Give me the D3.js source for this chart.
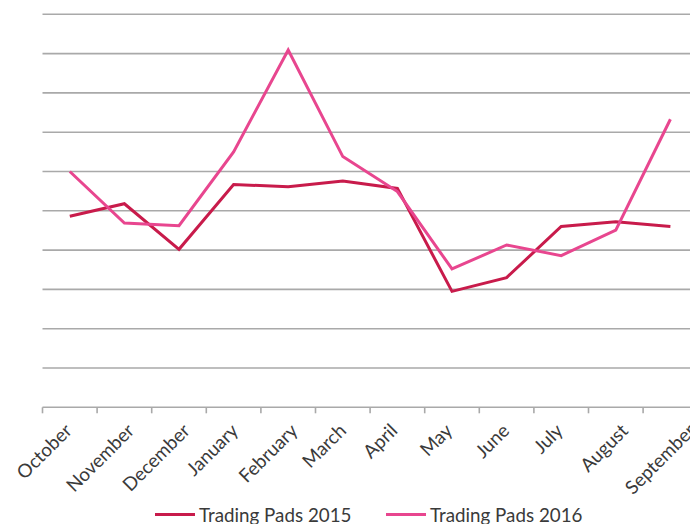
<!DOCTYPE html>
<html>
<head>
<meta charset="utf-8">
<script src="https://cdn.jsdelivr.net/npm/d3@7/dist/d3.min.js"></script>
<style>
  html, body { margin: 0; padding: 0; background: #fff; overflow: hidden; }
  svg { display: block; }
</style>
</head>
<body>
<div id="chart"></div>
<script>
// Monthly figures for the two trading-pad series
const months = ["October", "November", "December", "January", "February", "March",
                "April", "May", "June", "July", "August", "September"];
const pads2015 = [48.6, 51.8, 40.2, 56.7, 56.1, 57.6, 55.7, 29.5, 33.0, 46.0, 47.2, 46.0];
const pads2016 = [60.0, 46.9, 46.2, 65.0, 90.9, 63.8, 54.9, 35.2, 41.3, 38.6, 45.1, 73.3];
const gridValues = [10, 20, 30, 40, 50, 60, 70, 80, 90, 100];
const seriesNames = ["Trading Pads 2015", "Trading Pads 2016"];
const seriesColors = ["#c81b4b", "#e8468f"];

const width = 720, height = 524;
const margin = { top: 14.3, left: 42.5, bottom: 524 - 407.3 };
const plotW = 12 * 54.6;
const font = "Lato, 'Open Sans', sans-serif";
const labelSize = 18.8;

const svg = d3.select("#chart").append("svg")
  .attr("width", width).attr("height", height);

const x = d3.scaleBand().domain(months).range([margin.left, margin.left + plotW]);
const y = d3.scaleLinear().domain([0, 100]).range([height - margin.bottom, margin.top]);

// horizontal gridlines
svg.append("g")
  .selectAll("line").data(gridValues).join("line")
  .attr("x1", margin.left).attr("x2", margin.left + plotW)
  .attr("y1", d => y(d)).attr("y2", d => y(d))
  .attr("stroke", "#a9a9a9").attr("stroke-width", 1.6);

// category axis with ticks between bands
const xAxis = svg.append("g")
  .attr("transform", `translate(0,${y(0)})`);
xAxis.append("line")
  .attr("x1", margin.left).attr("x2", margin.left + plotW)
  .attr("stroke", "#a9a9a9").attr("stroke-width", 1.6);
xAxis.selectAll("line.tick").data(months.concat([null])).join("line")
  .attr("class", "tick")
  .attr("x1", (d, i) => margin.left + i * x.bandwidth())
  .attr("x2", (d, i) => margin.left + i * x.bandwidth())
  .attr("y1", 0).attr("y2", 6)
  .attr("stroke", "#a9a9a9").attr("stroke-width", 1.6);

// rotated month labels, centred on their own point and hung below the axis
const labels = svg.append("g").selectAll("text").data(months).join("text")
  .attr("text-anchor", "middle")
  .attr("font-family", font)
  .attr("font-size", labelSize)
  .attr("fill", "#3a3a3a")
  .text(d => d);
labels.each(function (d, i) {
  const L = this.getComputedTextLength();
  const cx = x(d) + x.bandwidth() / 2 - 21 + 1.4 * i;
  const cy = y(0) + 18 + 0.7071 * (L / 2 + 0.5 * labelSize);
  d3.select(this).attr("transform", `translate(${cx},${cy}) rotate(-45)`);
});

// series lines
const line = d3.line()
  .x((d, i) => x(months[i]) + x.bandwidth() / 2)
  .y(d => y(d));
[pads2015, pads2016].forEach((vals, k) => {
  svg.append("path")
    .datum(vals)
    .attr("d", line)
    .attr("fill", "none")
    .attr("stroke", seriesColors[k])
    .attr("stroke-width", 3)
    .attr("stroke-linejoin", "miter");
});

// legend
const legendX = [155, 386];
seriesNames.forEach((name, k) => {
  const g = svg.append("g").attr("transform", `translate(${legendX[k]},514.5)`);
  g.append("line").attr("x1", 0).attr("x2", 40)
    .attr("stroke", seriesColors[k]).attr("stroke-width", 3);
  g.append("text").attr("x", 44).attr("y", 7)
    .attr("font-family", font)
    .attr("font-size", 18.8)
    .attr("fill", "#3a3a3a")
    .text(name);
});
</script>
</body>
</html>
